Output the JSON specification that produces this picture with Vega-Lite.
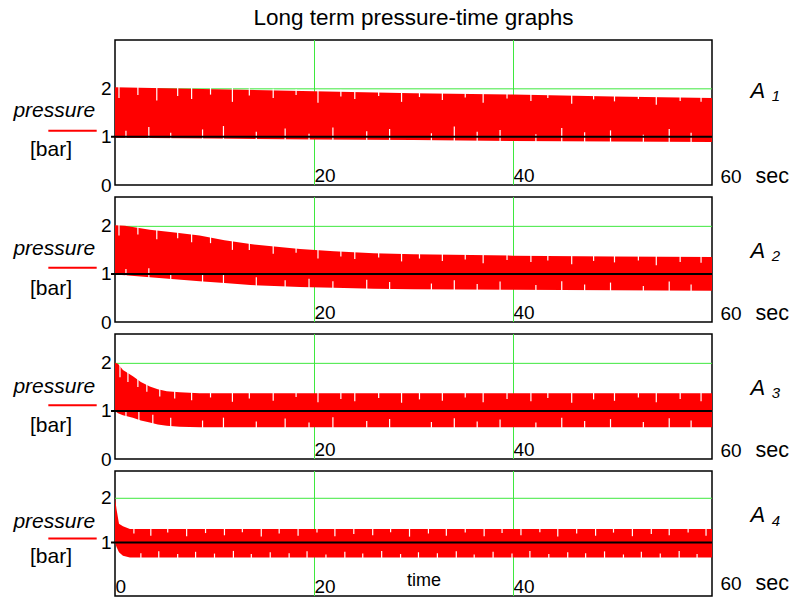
{
  "$schema": "https://vega.github.io/schema/vega-lite/v6.json",
  "background": "white",
  "padding": {"left": 12, "right": 2, "top": 7, "bottom": 2},
  "bounds": "flush",
  "title": {"text": "Long term pressure-time graphs", "anchor": "middle", "frame": "group", "fontSize": 22.5, "fontWeight": "normal", "font": "Liberation Sans", "baseline": "alphabetic", "offset": -9, "color": "black"},
  "config": {
    "font": "Liberation Sans",
    "view": {"stroke": "black", "strokeWidth": 1.5},
    "text": {"font": "Liberation Sans", "color": "black"},
    "axis": {"labelFont": "Liberation Sans", "labelColor": "black", "labelFontSize": 19, "domain": false, "ticks": false, "grid": false, "labelOverlap": false, "labelFlush": false, "labelBound": false, "format": "d"}
  },
  "spacing": 12,
  "datasets": {
    "p1": [
      {"t": 0, "hi": 2.02, "lo": 0.98},
      {"t": 10, "hi": 1.98, "lo": 0.96},
      {"t": 20, "hi": 1.94, "lo": 0.94},
      {"t": 30, "hi": 1.9, "lo": 0.93},
      {"t": 40, "hi": 1.87, "lo": 0.91},
      {"t": 50, "hi": 1.83, "lo": 0.9},
      {"t": 60, "hi": 1.8, "lo": 0.89}
    ],
    "p2": [
      {"t": 0, "hi": 2.01, "lo": 0.99},
      {"t": 1, "hi": 2.0, "lo": 0.97},
      {"t": 3.5, "hi": 1.92, "lo": 0.93},
      {"t": 6, "hi": 1.86, "lo": 0.89},
      {"t": 8.5, "hi": 1.8, "lo": 0.85},
      {"t": 11, "hi": 1.7, "lo": 0.81},
      {"t": 13.6, "hi": 1.62, "lo": 0.77},
      {"t": 16, "hi": 1.57, "lo": 0.75},
      {"t": 18.6, "hi": 1.52, "lo": 0.73},
      {"t": 22, "hi": 1.47, "lo": 0.71},
      {"t": 26, "hi": 1.43, "lo": 0.69},
      {"t": 30, "hi": 1.41, "lo": 0.68},
      {"t": 40, "hi": 1.38, "lo": 0.67},
      {"t": 50, "hi": 1.36, "lo": 0.66},
      {"t": 60, "hi": 1.35, "lo": 0.65}
    ],
    "p3": [
      {"t": 0, "hi": 2.0, "lo": 1.0},
      {"t": 0.3, "hi": 1.98, "lo": 0.95},
      {"t": 0.8, "hi": 1.85, "lo": 0.91},
      {"t": 1.8, "hi": 1.72, "lo": 0.86},
      {"t": 2.6, "hi": 1.6, "lo": 0.8},
      {"t": 3.5, "hi": 1.51, "lo": 0.76},
      {"t": 4.3, "hi": 1.45, "lo": 0.72},
      {"t": 5.2, "hi": 1.41, "lo": 0.69},
      {"t": 6.5, "hi": 1.39, "lo": 0.67},
      {"t": 8.5, "hi": 1.37, "lo": 0.66},
      {"t": 60, "hi": 1.37, "lo": 0.66}
    ],
    "p4": [
      {"t": 0, "hi": 2.0, "lo": 1.0},
      {"t": 0.15, "hi": 1.75, "lo": 0.9},
      {"t": 0.4, "hi": 1.42, "lo": 0.78},
      {"t": 0.8, "hi": 1.36, "lo": 0.7},
      {"t": 1.5, "hi": 1.3, "lo": 0.66},
      {"t": 60, "hi": 1.3, "lo": 0.66}
    ],
    "gaps": [
      {"p": 1, "t": 0.4, "a": 2.05, "b": 1.8}, {"p": 1, "t": 2.3, "a": 2.04, "b": 1.86}, {"p": 1, "t": 4.2, "a": 2.03, "b": 1.75}, {"p": 1, "t": 6.3, "a": 2.03, "b": 1.84},
      {"p": 1, "t": 7.7, "a": 2.02, "b": 1.78}, {"p": 1, "t": 9.6, "a": 2.01, "b": 1.87}, {"p": 1, "t": 11.8, "a": 2.01, "b": 1.72}, {"p": 1, "t": 13.5, "a": 2.0, "b": 1.85},
      {"p": 1, "t": 15.9, "a": 1.99, "b": 1.8}, {"p": 1, "t": 18.2, "a": 1.98, "b": 1.86}, {"p": 1, "t": 20.4, "a": 1.97, "b": 1.7}, {"p": 1, "t": 22.7, "a": 1.97, "b": 1.83},
      {"p": 1, "t": 24.1, "a": 1.96, "b": 1.78}, {"p": 1, "t": 26.5, "a": 1.95, "b": 1.84}, {"p": 1, "t": 28.8, "a": 1.94, "b": 1.72}, {"p": 1, "t": 30.6, "a": 1.94, "b": 1.82},
      {"p": 1, "t": 32.9, "a": 1.93, "b": 1.76}, {"p": 1, "t": 35.2, "a": 1.92, "b": 1.81}, {"p": 1, "t": 37.0, "a": 1.91, "b": 1.7}, {"p": 1, "t": 39.4, "a": 1.9, "b": 1.79},
      {"p": 1, "t": 41.8, "a": 1.9, "b": 1.74}, {"p": 1, "t": 43.5, "a": 1.89, "b": 1.8}, {"p": 1, "t": 45.9, "a": 1.88, "b": 1.68}, {"p": 1, "t": 48.1, "a": 1.87, "b": 1.77},
      {"p": 1, "t": 50.2, "a": 1.86, "b": 1.73}, {"p": 1, "t": 52.6, "a": 1.86, "b": 1.78}, {"p": 1, "t": 54.4, "a": 1.85, "b": 1.66}, {"p": 1, "t": 56.8, "a": 1.84, "b": 1.74},
      {"p": 1, "t": 58.9, "a": 1.83, "b": 1.72},
      {"p": 1, "t": 1.1, "a": 0.95, "b": 1.12}, {"p": 1, "t": 3.4, "a": 0.945, "b": 1.2}, {"p": 1, "t": 5.6, "a": 0.94, "b": 1.08}, {"p": 1, "t": 8.8, "a": 0.94, "b": 1.15},
      {"p": 1, "t": 10.9, "a": 0.93, "b": 1.22}, {"p": 1, "t": 14.2, "a": 0.93, "b": 1.1}, {"p": 1, "t": 17.1, "a": 0.92, "b": 1.17}, {"p": 1, "t": 19.5, "a": 0.92, "b": 1.06},
      {"p": 1, "t": 21.9, "a": 0.92, "b": 1.19}, {"p": 1, "t": 25.3, "a": 0.91, "b": 1.11}, {"p": 1, "t": 27.6, "a": 0.91, "b": 1.16}, {"p": 1, "t": 31.8, "a": 0.9, "b": 1.07},
      {"p": 1, "t": 34.1, "a": 0.9, "b": 1.21}, {"p": 1, "t": 36.4, "a": 0.9, "b": 1.1}, {"p": 1, "t": 38.7, "a": 0.89, "b": 1.14}, {"p": 1, "t": 42.3, "a": 0.89, "b": 1.05},
      {"p": 1, "t": 44.9, "a": 0.88, "b": 1.18}, {"p": 1, "t": 47.2, "a": 0.88, "b": 1.09}, {"p": 1, "t": 49.8, "a": 0.88, "b": 1.13}, {"p": 1, "t": 53.1, "a": 0.87, "b": 1.04},
      {"p": 1, "t": 55.7, "a": 0.87, "b": 1.16}, {"p": 1, "t": 57.9, "a": 0.86, "b": 1.08},
      {"p": 2, "t": 0.4, "a": 2.04, "b": 1.8}, {"p": 2, "t": 2.3, "a": 1.98, "b": 1.82}, {"p": 2, "t": 4.2, "a": 1.93, "b": 1.72}, {"p": 2, "t": 6.3, "a": 1.88, "b": 1.74},
      {"p": 2, "t": 7.7, "a": 1.85, "b": 1.66}, {"p": 2, "t": 9.6, "a": 1.79, "b": 1.64}, {"p": 2, "t": 11.8, "a": 1.7, "b": 1.5}, {"p": 2, "t": 13.5, "a": 1.65, "b": 1.5},
      {"p": 2, "t": 15.9, "a": 1.6, "b": 1.42}, {"p": 2, "t": 18.2, "a": 1.56, "b": 1.44}, {"p": 2, "t": 20.4, "a": 1.52, "b": 1.32}, {"p": 2, "t": 22.7, "a": 1.49, "b": 1.36},
      {"p": 2, "t": 24.1, "a": 1.48, "b": 1.31}, {"p": 2, "t": 26.5, "a": 1.46, "b": 1.34}, {"p": 2, "t": 28.8, "a": 1.45, "b": 1.26}, {"p": 2, "t": 30.6, "a": 1.44, "b": 1.32},
      {"p": 2, "t": 32.9, "a": 1.43, "b": 1.27}, {"p": 2, "t": 35.2, "a": 1.42, "b": 1.3}, {"p": 2, "t": 37.0, "a": 1.42, "b": 1.22}, {"p": 2, "t": 39.4, "a": 1.41, "b": 1.29},
      {"p": 2, "t": 41.8, "a": 1.41, "b": 1.25}, {"p": 2, "t": 43.5, "a": 1.4, "b": 1.28}, {"p": 2, "t": 45.9, "a": 1.4, "b": 1.2}, {"p": 2, "t": 48.1, "a": 1.39, "b": 1.27},
      {"p": 2, "t": 50.2, "a": 1.39, "b": 1.24}, {"p": 2, "t": 52.6, "a": 1.39, "b": 1.28}, {"p": 2, "t": 54.4, "a": 1.39, "b": 1.18}, {"p": 2, "t": 56.8, "a": 1.38, "b": 1.25},
      {"p": 2, "t": 58.9, "a": 1.38, "b": 1.23},
      {"p": 2, "t": 1.1, "a": 0.94, "b": 1.1}, {"p": 2, "t": 3.4, "a": 0.9, "b": 1.12}, {"p": 2, "t": 5.6, "a": 0.87, "b": 1.02}, {"p": 2, "t": 8.8, "a": 0.81, "b": 1.0},
      {"p": 2, "t": 10.9, "a": 0.78, "b": 0.98}, {"p": 2, "t": 14.2, "a": 0.73, "b": 0.93}, {"p": 2, "t": 17.1, "a": 0.71, "b": 0.87}, {"p": 2, "t": 19.5, "a": 0.69, "b": 0.9},
      {"p": 2, "t": 21.9, "a": 0.68, "b": 0.85}, {"p": 2, "t": 25.3, "a": 0.66, "b": 0.88}, {"p": 2, "t": 27.6, "a": 0.65, "b": 0.83}, {"p": 2, "t": 31.8, "a": 0.65, "b": 0.8},
      {"p": 2, "t": 34.1, "a": 0.64, "b": 0.87}, {"p": 2, "t": 36.4, "a": 0.64, "b": 0.79}, {"p": 2, "t": 38.7, "a": 0.64, "b": 0.84}, {"p": 2, "t": 42.3, "a": 0.64, "b": 0.77},
      {"p": 2, "t": 44.9, "a": 0.63, "b": 0.85}, {"p": 2, "t": 47.2, "a": 0.63, "b": 0.78}, {"p": 2, "t": 49.8, "a": 0.63, "b": 0.82}, {"p": 2, "t": 53.1, "a": 0.62, "b": 0.75},
      {"p": 2, "t": 55.7, "a": 0.62, "b": 0.84}, {"p": 2, "t": 57.9, "a": 0.62, "b": 0.78},
      {"p": 3, "t": 0.5, "a": 1.96, "b": 1.7}, {"p": 3, "t": 1.3, "a": 1.81, "b": 1.6}, {"p": 3, "t": 2.3, "a": 1.68, "b": 1.5}, {"p": 3, "t": 3.2, "a": 1.57, "b": 1.4},
      {"p": 3, "t": 4.5, "a": 1.47, "b": 1.3}, {"p": 3, "t": 6.0, "a": 1.43, "b": 1.26}, {"p": 3, "t": 7.7, "a": 1.4, "b": 1.22}, {"p": 3, "t": 9.6, "a": 1.4, "b": 1.28},
      {"p": 3, "t": 11.8, "a": 1.4, "b": 1.19}, {"p": 3, "t": 13.5, "a": 1.4, "b": 1.26}, {"p": 3, "t": 15.9, "a": 1.4, "b": 1.21}, {"p": 3, "t": 18.2, "a": 1.4, "b": 1.29},
      {"p": 3, "t": 20.4, "a": 1.4, "b": 1.18}, {"p": 3, "t": 22.7, "a": 1.4, "b": 1.25}, {"p": 3, "t": 24.1, "a": 1.4, "b": 1.2}, {"p": 3, "t": 26.5, "a": 1.4, "b": 1.27},
      {"p": 3, "t": 28.8, "a": 1.4, "b": 1.17}, {"p": 3, "t": 30.6, "a": 1.4, "b": 1.24}, {"p": 3, "t": 32.9, "a": 1.4, "b": 1.21}, {"p": 3, "t": 35.2, "a": 1.4, "b": 1.28},
      {"p": 3, "t": 37.0, "a": 1.4, "b": 1.18}, {"p": 3, "t": 39.4, "a": 1.4, "b": 1.25}, {"p": 3, "t": 41.8, "a": 1.4, "b": 1.2}, {"p": 3, "t": 43.5, "a": 1.4, "b": 1.27},
      {"p": 3, "t": 45.9, "a": 1.4, "b": 1.17}, {"p": 3, "t": 48.1, "a": 1.4, "b": 1.24}, {"p": 3, "t": 50.2, "a": 1.4, "b": 1.21}, {"p": 3, "t": 52.6, "a": 1.4, "b": 1.28},
      {"p": 3, "t": 54.4, "a": 1.4, "b": 1.18}, {"p": 3, "t": 56.8, "a": 1.4, "b": 1.25}, {"p": 3, "t": 58.9, "a": 1.4, "b": 1.2},
      {"p": 3, "t": 1.1, "a": 0.86, "b": 1.02}, {"p": 3, "t": 2.4, "a": 0.79, "b": 0.98}, {"p": 3, "t": 3.8, "a": 0.72, "b": 0.92}, {"p": 3, "t": 5.6, "a": 0.65, "b": 0.86},
      {"p": 3, "t": 8.8, "a": 0.63, "b": 0.8}, {"p": 3, "t": 10.9, "a": 0.63, "b": 0.86}, {"p": 3, "t": 14.2, "a": 0.63, "b": 0.78}, {"p": 3, "t": 17.1, "a": 0.63, "b": 0.84},
      {"p": 3, "t": 19.5, "a": 0.63, "b": 0.76}, {"p": 3, "t": 21.9, "a": 0.63, "b": 0.87}, {"p": 3, "t": 25.3, "a": 0.63, "b": 0.79}, {"p": 3, "t": 27.6, "a": 0.63, "b": 0.83},
      {"p": 3, "t": 31.8, "a": 0.63, "b": 0.77}, {"p": 3, "t": 34.1, "a": 0.63, "b": 0.85}, {"p": 3, "t": 36.4, "a": 0.63, "b": 0.78}, {"p": 3, "t": 38.7, "a": 0.63, "b": 0.82},
      {"p": 3, "t": 42.3, "a": 0.63, "b": 0.76}, {"p": 3, "t": 44.9, "a": 0.63, "b": 0.86}, {"p": 3, "t": 47.2, "a": 0.63, "b": 0.79}, {"p": 3, "t": 49.8, "a": 0.63, "b": 0.83},
      {"p": 3, "t": 53.1, "a": 0.63, "b": 0.77}, {"p": 3, "t": 55.7, "a": 0.63, "b": 0.85}, {"p": 3, "t": 57.9, "a": 0.63, "b": 0.8},
      {"p": 4, "t": 1.9, "a": 1.33, "b": 1.2}, {"p": 4, "t": 3.6, "a": 1.33, "b": 1.15}, {"p": 4, "t": 5.3, "a": 1.33, "b": 1.22}, {"p": 4, "t": 7.2, "a": 1.33, "b": 1.14},
      {"p": 4, "t": 9.1, "a": 1.33, "b": 1.21}, {"p": 4, "t": 11.0, "a": 1.33, "b": 1.16}, {"p": 4, "t": 12.8, "a": 1.33, "b": 1.23}, {"p": 4, "t": 14.7, "a": 1.33, "b": 1.13},
      {"p": 4, "t": 16.5, "a": 1.33, "b": 1.2}, {"p": 4, "t": 18.4, "a": 1.33, "b": 1.15}, {"p": 4, "t": 20.3, "a": 1.33, "b": 1.22}, {"p": 4, "t": 22.1, "a": 1.33, "b": 1.14},
      {"p": 4, "t": 24.0, "a": 1.33, "b": 1.19}, {"p": 4, "t": 25.9, "a": 1.33, "b": 1.16}, {"p": 4, "t": 27.7, "a": 1.33, "b": 1.23}, {"p": 4, "t": 29.6, "a": 1.33, "b": 1.13},
      {"p": 4, "t": 31.5, "a": 1.33, "b": 1.2}, {"p": 4, "t": 33.3, "a": 1.33, "b": 1.15}, {"p": 4, "t": 35.2, "a": 1.33, "b": 1.22}, {"p": 4, "t": 37.1, "a": 1.33, "b": 1.14},
      {"p": 4, "t": 38.9, "a": 1.33, "b": 1.21}, {"p": 4, "t": 40.8, "a": 1.33, "b": 1.16}, {"p": 4, "t": 42.7, "a": 1.33, "b": 1.23}, {"p": 4, "t": 44.5, "a": 1.33, "b": 1.13},
      {"p": 4, "t": 46.4, "a": 1.33, "b": 1.2}, {"p": 4, "t": 48.3, "a": 1.33, "b": 1.15}, {"p": 4, "t": 50.1, "a": 1.33, "b": 1.22}, {"p": 4, "t": 52.0, "a": 1.33, "b": 1.14},
      {"p": 4, "t": 53.9, "a": 1.33, "b": 1.19}, {"p": 4, "t": 55.7, "a": 1.33, "b": 1.16}, {"p": 4, "t": 57.6, "a": 1.33, "b": 1.22}, {"p": 4, "t": 59.4, "a": 1.33, "b": 1.15},
      {"p": 4, "t": 2.6, "a": 0.63, "b": 0.76}, {"p": 4, "t": 4.4, "a": 0.63, "b": 0.8}, {"p": 4, "t": 6.3, "a": 0.63, "b": 0.74}, {"p": 4, "t": 8.1, "a": 0.63, "b": 0.79},
      {"p": 4, "t": 10.0, "a": 0.63, "b": 0.75}, {"p": 4, "t": 11.9, "a": 0.63, "b": 0.81}, {"p": 4, "t": 13.7, "a": 0.63, "b": 0.74}, {"p": 4, "t": 15.6, "a": 0.63, "b": 0.78},
      {"p": 4, "t": 17.5, "a": 0.63, "b": 0.76}, {"p": 4, "t": 19.3, "a": 0.63, "b": 0.8}, {"p": 4, "t": 21.2, "a": 0.63, "b": 0.73}, {"p": 4, "t": 23.1, "a": 0.63, "b": 0.79},
      {"p": 4, "t": 24.9, "a": 0.63, "b": 0.75}, {"p": 4, "t": 26.8, "a": 0.63, "b": 0.81}, {"p": 4, "t": 28.7, "a": 0.63, "b": 0.74}, {"p": 4, "t": 30.5, "a": 0.63, "b": 0.78},
      {"p": 4, "t": 32.4, "a": 0.63, "b": 0.76}, {"p": 4, "t": 34.3, "a": 0.63, "b": 0.8}, {"p": 4, "t": 36.1, "a": 0.63, "b": 0.73}, {"p": 4, "t": 38.0, "a": 0.63, "b": 0.79},
      {"p": 4, "t": 39.9, "a": 0.63, "b": 0.75}, {"p": 4, "t": 41.7, "a": 0.63, "b": 0.81}, {"p": 4, "t": 43.6, "a": 0.63, "b": 0.74}, {"p": 4, "t": 45.5, "a": 0.63, "b": 0.78},
      {"p": 4, "t": 47.3, "a": 0.63, "b": 0.76}, {"p": 4, "t": 49.2, "a": 0.63, "b": 0.8}, {"p": 4, "t": 51.1, "a": 0.63, "b": 0.73}, {"p": 4, "t": 52.9, "a": 0.63, "b": 0.79},
      {"p": 4, "t": 54.8, "a": 0.63, "b": 0.75}, {"p": 4, "t": 56.7, "a": 0.63, "b": 0.81}, {"p": 4, "t": 58.5, "a": 0.63, "b": 0.74}
    ]
  },
  "vconcat": [
    {
      "width": 597, "height": 145,
      "layer": [
        {"data": {"values": [{}]}, "mark": {"type": "rule", "color": "#3ee83e", "strokeWidth": 1, "xOffset": 0.5}, "encoding": {"x": {"datum": 20}}},
        {"data": {"values": [{}]}, "mark": {"type": "rule", "color": "#3ee83e", "strokeWidth": 1, "xOffset": 0.5}, "encoding": {"x": {"datum": 40}}},
        {"data": {"values": [{}]}, "mark": {"type": "rule", "color": "#3ee83e", "strokeWidth": 1, "yOffset": 0.5}, "encoding": {"y": {"datum": 2}}},
        {"data": {"name": "p1"}, "mark": {"type": "area", "color": "#ff0000", "opacity": 1},
         "encoding": {
           "x": {"field": "t", "type": "quantitative", "scale": {"domain": [0, 60]}, "axis": {"values": [20, 40], "title": null, "labelAlign": "left", "labelBaseline": "alphabetic", "labelPadding": -4, "labelDx": 3}},
           "y": {"field": "hi", "type": "quantitative", "scale": {"domain": [0, 2.84]}, "axis": {"values": [0, 1, 2], "title": null, "labelPadding": 4, "labelBaseline": "middle"}},
           "y2": {"field": "lo"}
         }},
        {"data": {"name": "gaps"}, "transform": [{"filter": "datum.p == 1"}], "mark": {"type": "rule", "color": "white", "strokeWidth": 1.2}, "encoding": {"x": {"field": "t", "type": "quantitative"}, "y": {"field": "a", "type": "quantitative"}, "y2": {"field": "b"}}},
        {"data": {"values": [{}]}, "mark": {"type": "rule", "color": "black", "strokeWidth": 2}, "encoding": {"x": {"datum": -0.4}, "x2": {"datum": 60}, "y": {"datum": 1}}},
        {"data": {"values": [{}]}, "mark": {"type": "rule", "color": "#ff0000", "strokeWidth": 2}, "encoding": {"x": {"datum": -6.7}, "x2": {"datum": -1.84}, "y": {"datum": 1.12}}},
        {"data": {"values": [{}]}, "mark": {"type": "text", "fontSize": 21, "fontStyle": "italic", "align": "right", "baseline": "alphabetic"}, "encoding": {"x": {"datum": -2.0}, "y": {"datum": 1.41}, "text": {"value": "pressure"}}},
        {"data": {"values": [{}]}, "mark": {"type": "text", "fontSize": 21, "align": "center", "baseline": "alphabetic"}, "encoding": {"x": {"datum": -6.43}, "y": {"datum": 0.59}, "text": {"value": "[bar]"}}},
        {"data": {"values": [{}]}, "mark": {"type": "text", "fontSize": 22, "fontStyle": "italic", "align": "center", "baseline": "alphabetic"}, "encoding": {"x": {"datum": 64.6}, "y": {"datum": 1.8}, "text": {"value": "A"}}},
        {"data": {"values": [{}]}, "mark": {"type": "text", "fontSize": 15, "fontStyle": "italic", "align": "left", "baseline": "alphabetic"}, "encoding": {"x": {"datum": 66.0}, "y": {"datum": 1.745}, "text": {"value": "1"}}},
        {"data": {"values": [{}]}, "mark": {"type": "text", "fontSize": 19, "align": "left", "baseline": "alphabetic"}, "encoding": {"x": {"datum": 60.85}, "y": {"datum": 0.045}, "text": {"value": "60"}}},
        {"data": {"values": [{}]}, "mark": {"type": "text", "fontSize": 21.5, "align": "left", "baseline": "alphabetic"}, "encoding": {"x": {"datum": 64.37}, "y": {"datum": 0.045}, "text": {"value": "sec"}}}
      ]
    },
    {
      "width": 597, "height": 125,
      "layer": [
        {"data": {"values": [{}]}, "mark": {"type": "rule", "color": "#3ee83e", "strokeWidth": 1, "xOffset": 0.5}, "encoding": {"x": {"datum": 20}}},
        {"data": {"values": [{}]}, "mark": {"type": "rule", "color": "#3ee83e", "strokeWidth": 1, "xOffset": 0.5}, "encoding": {"x": {"datum": 40}}},
        {"data": {"values": [{}]}, "mark": {"type": "rule", "color": "#3ee83e", "strokeWidth": 1, "yOffset": 0.5}, "encoding": {"y": {"datum": 2}}},
        {"data": {"name": "p2"}, "mark": {"type": "area", "color": "#ff0000", "opacity": 1},
         "encoding": {
           "x": {"field": "t", "type": "quantitative", "scale": {"domain": [0, 60]}, "axis": {"values": [20, 40], "title": null, "labelAlign": "left", "labelBaseline": "alphabetic", "labelPadding": -4, "labelDx": 3}},
           "y": {"field": "hi", "type": "quantitative", "scale": {"domain": [0, 2.46]}, "axis": {"values": [0, 1, 2], "title": null, "labelPadding": 4, "labelBaseline": "middle"}},
           "y2": {"field": "lo"}
         }},
        {"data": {"name": "gaps"}, "transform": [{"filter": "datum.p == 2"}], "mark": {"type": "rule", "color": "white", "strokeWidth": 1.2}, "encoding": {"x": {"field": "t", "type": "quantitative"}, "y": {"field": "a", "type": "quantitative"}, "y2": {"field": "b"}}},
        {"data": {"values": [{}]}, "mark": {"type": "rule", "color": "black", "strokeWidth": 2}, "encoding": {"x": {"datum": -0.4}, "x2": {"datum": 60}, "y": {"datum": 1}}},
        {"data": {"values": [{}]}, "mark": {"type": "rule", "color": "#ff0000", "strokeWidth": 2}, "encoding": {"x": {"datum": -6.7}, "x2": {"datum": -1.84}, "y": {"datum": 1.13}}},
        {"data": {"values": [{}]}, "mark": {"type": "text", "fontSize": 21, "fontStyle": "italic", "align": "right", "baseline": "alphabetic"}, "encoding": {"x": {"datum": -2.0}, "y": {"datum": 1.39}, "text": {"value": "pressure"}}},
        {"data": {"values": [{}]}, "mark": {"type": "text", "fontSize": 21, "align": "center", "baseline": "alphabetic"}, "encoding": {"x": {"datum": -6.43}, "y": {"datum": 0.57}, "text": {"value": "[bar]"}}},
        {"data": {"values": [{}]}, "mark": {"type": "text", "fontSize": 22, "fontStyle": "italic", "align": "center", "baseline": "alphabetic"}, "encoding": {"x": {"datum": 64.6}, "y": {"datum": 1.33}, "text": {"value": "A"}}},
        {"data": {"values": [{}]}, "mark": {"type": "text", "fontSize": 15, "fontStyle": "italic", "align": "left", "baseline": "alphabetic"}, "encoding": {"x": {"datum": 66.0}, "y": {"datum": 1.27}, "text": {"value": "2"}}},
        {"data": {"values": [{}]}, "mark": {"type": "text", "fontSize": 19, "align": "left", "baseline": "alphabetic"}, "encoding": {"x": {"datum": 60.85}, "y": {"datum": 0.047}, "text": {"value": "60"}}},
        {"data": {"values": [{}]}, "mark": {"type": "text", "fontSize": 21.5, "align": "left", "baseline": "alphabetic"}, "encoding": {"x": {"datum": 64.37}, "y": {"datum": 0.047}, "text": {"value": "sec"}}}
      ]
    },
    {
      "width": 597, "height": 125,
      "layer": [
        {"data": {"values": [{}]}, "mark": {"type": "rule", "color": "#3ee83e", "strokeWidth": 1, "xOffset": 0.5}, "encoding": {"x": {"datum": 20}}},
        {"data": {"values": [{}]}, "mark": {"type": "rule", "color": "#3ee83e", "strokeWidth": 1, "xOffset": 0.5}, "encoding": {"x": {"datum": 40}}},
        {"data": {"values": [{}]}, "mark": {"type": "rule", "color": "#3ee83e", "strokeWidth": 1, "yOffset": 0.5}, "encoding": {"y": {"datum": 2}}},
        {"data": {"name": "p3"}, "mark": {"type": "area", "color": "#ff0000", "opacity": 1},
         "encoding": {
           "x": {"field": "t", "type": "quantitative", "scale": {"domain": [0, 60]}, "axis": {"values": [20, 40], "title": null, "labelAlign": "left", "labelBaseline": "alphabetic", "labelPadding": -4, "labelDx": 3}},
           "y": {"field": "hi", "type": "quantitative", "scale": {"domain": [0, 2.45]}, "axis": {"values": [0, 1, 2], "title": null, "labelPadding": 4, "labelBaseline": "middle"}},
           "y2": {"field": "lo"}
         }},
        {"data": {"name": "gaps"}, "transform": [{"filter": "datum.p == 3"}], "mark": {"type": "rule", "color": "white", "strokeWidth": 1.2}, "encoding": {"x": {"field": "t", "type": "quantitative"}, "y": {"field": "a", "type": "quantitative"}, "y2": {"field": "b"}}},
        {"data": {"values": [{}]}, "mark": {"type": "rule", "color": "black", "strokeWidth": 2}, "encoding": {"x": {"datum": -0.4}, "x2": {"datum": 60}, "y": {"datum": 1}}},
        {"data": {"values": [{}]}, "mark": {"type": "rule", "color": "#ff0000", "strokeWidth": 2}, "encoding": {"x": {"datum": -6.7}, "x2": {"datum": -1.84}, "y": {"datum": 1.12}}},
        {"data": {"values": [{}]}, "mark": {"type": "text", "fontSize": 21, "fontStyle": "italic", "align": "right", "baseline": "alphabetic"}, "encoding": {"x": {"datum": -2.0}, "y": {"datum": 1.38}, "text": {"value": "pressure"}}},
        {"data": {"values": [{}]}, "mark": {"type": "text", "fontSize": 21, "align": "center", "baseline": "alphabetic"}, "encoding": {"x": {"datum": -6.43}, "y": {"datum": 0.57}, "text": {"value": "[bar]"}}},
        {"data": {"values": [{}]}, "mark": {"type": "text", "fontSize": 22, "fontStyle": "italic", "align": "center", "baseline": "alphabetic"}, "encoding": {"x": {"datum": 64.6}, "y": {"datum": 1.33}, "text": {"value": "A"}}},
        {"data": {"values": [{}]}, "mark": {"type": "text", "fontSize": 15, "fontStyle": "italic", "align": "left", "baseline": "alphabetic"}, "encoding": {"x": {"datum": 66.0}, "y": {"datum": 1.27}, "text": {"value": "3"}}},
        {"data": {"values": [{}]}, "mark": {"type": "text", "fontSize": 19, "align": "left", "baseline": "alphabetic"}, "encoding": {"x": {"datum": 60.85}, "y": {"datum": 0.047}, "text": {"value": "60"}}},
        {"data": {"values": [{}]}, "mark": {"type": "text", "fontSize": 21.5, "align": "left", "baseline": "alphabetic"}, "encoding": {"x": {"datum": 64.37}, "y": {"datum": 0.047}, "text": {"value": "sec"}}}
      ]
    },
    {
      "width": 597, "height": 125,
      "layer": [
        {"data": {"values": [{}]}, "mark": {"type": "rule", "color": "#3ee83e", "strokeWidth": 1, "xOffset": 0.5}, "encoding": {"x": {"datum": 20}}},
        {"data": {"values": [{}]}, "mark": {"type": "rule", "color": "#3ee83e", "strokeWidth": 1, "xOffset": 0.5}, "encoding": {"x": {"datum": 40}}},
        {"data": {"values": [{}]}, "mark": {"type": "rule", "color": "#3ee83e", "strokeWidth": 1, "yOffset": 0.5}, "encoding": {"y": {"datum": 2}}},
        {"data": {"name": "p4"}, "mark": {"type": "area", "color": "#ff0000", "opacity": 1},
         "encoding": {
           "x": {"field": "t", "type": "quantitative", "scale": {"domain": [0, 60]}, "axis": {"values": [0, 20, 40], "title": null, "labelAlign": "left", "labelBaseline": "alphabetic", "labelPadding": -4, "labelDx": 3}},
           "y": {"field": "hi", "type": "quantitative", "scale": {"domain": [-0.1, 2.48]}, "axis": {"values": [1, 2], "title": null, "labelPadding": 4, "labelBaseline": "middle"}},
           "y2": {"field": "lo"}
         }},
        {"data": {"name": "gaps"}, "transform": [{"filter": "datum.p == 4"}], "mark": {"type": "rule", "color": "white", "strokeWidth": 1.2}, "encoding": {"x": {"field": "t", "type": "quantitative"}, "y": {"field": "a", "type": "quantitative"}, "y2": {"field": "b"}}},
        {"data": {"values": [{}]}, "mark": {"type": "rule", "color": "black", "strokeWidth": 2}, "encoding": {"x": {"datum": -0.4}, "x2": {"datum": 60}, "y": {"datum": 1}}},
        {"data": {"values": [{}]}, "mark": {"type": "rule", "color": "#ff0000", "strokeWidth": 2}, "encoding": {"x": {"datum": -6.7}, "x2": {"datum": -1.84}, "y": {"datum": 1.09}}},
        {"data": {"values": [{}]}, "mark": {"type": "text", "fontSize": 21, "fontStyle": "italic", "align": "right", "baseline": "alphabetic"}, "encoding": {"x": {"datum": -2.0}, "y": {"datum": 1.32}, "text": {"value": "pressure"}}},
        {"data": {"values": [{}]}, "mark": {"type": "text", "fontSize": 21, "align": "center", "baseline": "alphabetic"}, "encoding": {"x": {"datum": -6.43}, "y": {"datum": 0.53}, "text": {"value": "[bar]"}}},
        {"data": {"values": [{}]}, "mark": {"type": "text", "fontSize": 22, "fontStyle": "italic", "align": "center", "baseline": "alphabetic"}, "encoding": {"x": {"datum": 64.6}, "y": {"datum": 1.45}, "text": {"value": "A"}}},
        {"data": {"values": [{}]}, "mark": {"type": "text", "fontSize": 15, "fontStyle": "italic", "align": "left", "baseline": "alphabetic"}, "encoding": {"x": {"datum": 66.0}, "y": {"datum": 1.36}, "text": {"value": "4"}}},
        {"data": {"values": [{}]}, "mark": {"type": "text", "fontSize": 19, "align": "left", "baseline": "alphabetic"}, "encoding": {"x": {"datum": 60.85}, "y": {"datum": -0.06}, "text": {"value": "60"}}},
        {"data": {"values": [{}]}, "mark": {"type": "text", "fontSize": 21.5, "align": "left", "baseline": "alphabetic"}, "encoding": {"x": {"datum": 64.37}, "y": {"datum": -0.06}, "text": {"value": "sec"}}},
        {"data": {"values": [{}]}, "mark": {"type": "text", "fontSize": 18, "align": "center", "baseline": "alphabetic"}, "encoding": {"x": {"datum": 31.06}, "y": {"datum": 0.02}, "text": {"value": "time"}}}
      ]
    }
  ]
}
